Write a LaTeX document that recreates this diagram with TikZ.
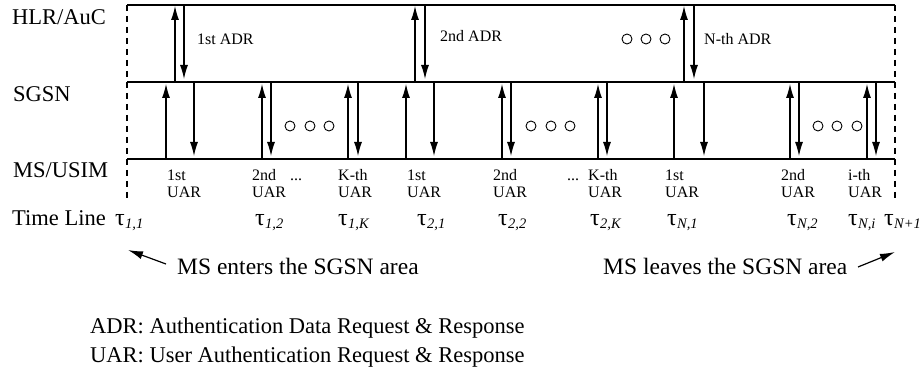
\documentclass[tikz,border=0pt]{standalone}
\usepackage{fontspec}
\setmainfont{Liberation Serif}
\usetikzlibrary{arrows.meta}
\newcommand{\tauL}[1]{{\fontsize{24}{24}\selectfont τ}\kern0.3pt\raisebox{-0.5ex}{\fontsize{14.5}{15}\selectfont\itshape #1}}
\begin{document}
\begin{tikzpicture}[x=1pt,y=-1pt,
  lbl/.style={anchor=base west,inner sep=0,font=\fontsize{22.5}{27}\selectfont},
  note/.style={anchor=base west,inner sep=0,font=\fontsize{23.5}{28}\selectfont},
  small/.style={anchor=base west,inner sep=0,font=\fontsize{16}{18}\selectfont},
  tl/.style={anchor=base west,inner sep=0},
  msg/.style={line width=1.1pt,-{Latex[length=14pt,width=8pt]}},
  lane/.style={line width=1.2pt},
  bnd/.style={line width=1.1pt,dash pattern=on 6pt off 5pt},
  dotc/.style={circle,draw,line width=0.9pt,minimum size=10pt,inner sep=0}
]
\useasboundingbox (0,0) rectangle (924,382);

% lanes
\coordinate (hl) at (127,5);   \coordinate (hr) at (895,5);
\coordinate (sl) at (127,82);  \coordinate (sr) at (895,82);
\coordinate (ml) at (127,159); \coordinate (mr) at (895,159);
\coordinate (bl) at (127,198); \coordinate (br) at (895,198);
\draw[lane] (hl) -- (hr);
\draw[lane] (sl) -- (sr);
\draw[lane] (ml) -- (mr);
\draw[bnd] (hl) -- (bl);
\draw[bnd] (hr) -- (br);

% row labels
\node[lbl] (hlr) at (12,25) {HLR/AuC};
\node[lbl] (sgsn) at (13,102) {SGSN};
\node[lbl] (ms) at (13,178) {MS/USIM};
\node[lbl] (tline) at (12,226) {Time Line};

% ADR exchanges (SGSN <-> HLR)
\foreach \u/\d in {175/184, 415/425, 684/694}{
  \draw[msg] (\u,82) -- (\u,6);
  \draw[msg] (\d,5) -- (\d,79);
}
\node[small] (adr1) at (197,45) {1st ADR};
\node[small] (adr2) at (440,42) {2nd ADR};
\node[small] (adrn) at (704,45) {N-th ADR};

% UAR exchanges (MS <-> SGSN)
\foreach \u/\d in {166/194, 262/271, 348/358, 406/434, 502/511, 598/607, 674/704, 790/799, 867/876}{
  \draw[msg] (\u,159) -- (\u,84);
  \draw[msg] (\d,82) -- (\d,156);
}

% circles
\foreach \x in {627,646,665}{ \node[dotc] at (\x,39) {}; }
\foreach \x in {290,310,329, 531,551,570, 818,837,857}{ \node[dotc] at (\x,126) {}; }

% UAR labels
\foreach \x/\t in {167/1st, 252/2nd, 338/K-th, 407/1st, 493/2nd, 588/K-th, 665/1st, 781/2nd, 848/i-th}{
  \node[small] at (\x,181) {\t};
  \node[small] at (\x,198) {UAR};
}
\node[small] (e1) at (290,181) {...};
\node[small] (e2) at (567,181) {...};

% time line
\node[tl] (t11) at (115,226) {\tauL{1,1}};
\node[tl] (t12) at (255,226) {\tauL{1,2}};
\node[tl] (t1k) at (338,226) {\tauL{1,K}};
\node[tl] (t21) at (417,226) {\tauL{2,1}};
\node[tl] (t22) at (498,226) {\tauL{2,2}};
\node[tl] (t2k) at (590,226) {\tauL{2,K}};
\node[tl] (tn1) at (667,226) {\tauL{N,1}};
\node[tl] (tn2) at (787,226) {\tauL{N,2}};
\node[tl] (tni) at (848,226) {\tauL{N,i}};
\node[tl] (tn1p) at (884,226) {\tauL{N+1}};

% enter / leave
\node[note] (enter) at (177,275) {MS enters the SGSN area};
\coordinate (ea) at (166,264);
\coordinate (eb) at (128,250);
\draw[line width=1.2pt,-{Latex[length=15pt,width=8pt]}] (ea) -- (eb);
\node[note] (leave) at (603,275) {MS leaves the SGSN area};
\coordinate (la) at (858,267);
\coordinate (lb) at (895,252);
\draw[line width=1.2pt,-{Latex[length=15pt,width=8pt]}] (la) -- (lb);

% legend
\node[lbl] (lg1) at (90,333) {ADR: Authentication Data Request \& Response};
\node[lbl] (lg2) at (90,362) {UAR: User Authentication Request \& Response};
\end{tikzpicture}
\end{document}
